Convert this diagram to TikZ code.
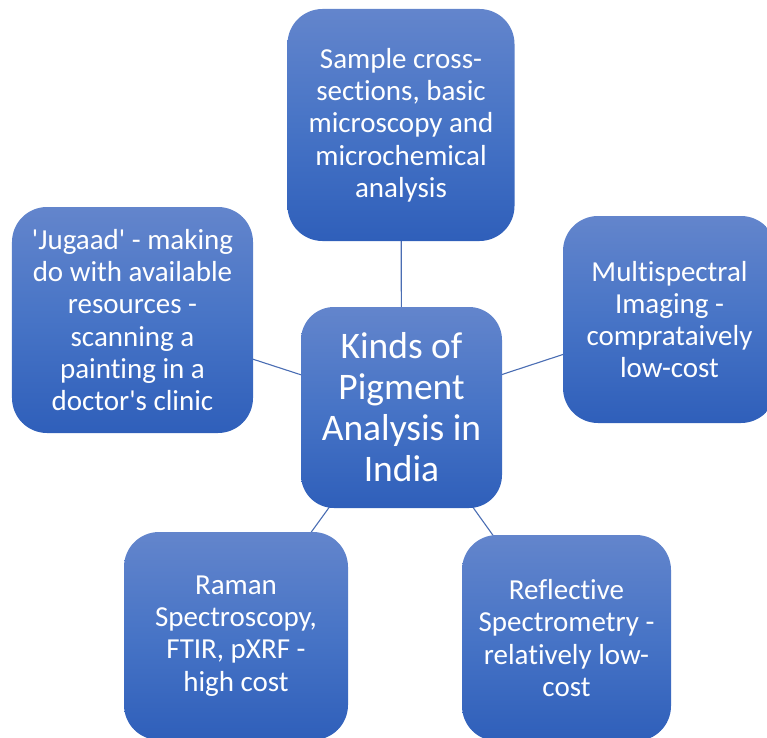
\documentclass[tikz,border=0pt]{standalone}
\usepackage{fontspec}
\newfontfamily\boxfont{Carlito}[Ligatures=NoCommon]
\usetikzlibrary{backgrounds}
\definecolor{boxtop}{HTML}{6385CC}
\definecolor{boxmid}{HTML}{4774C6}
\definecolor{boxbot}{HTML}{2F5FBA}
\definecolor{linkcol}{HTML}{4A6DB3}
\tikzset{
  topic/.style={rectangle, rounded corners=35bp, top color=boxtop, bottom color=boxbot, middle color=boxmid,
    text=white, align=center, inner sep=0pt, font=\boxfont\fontsize{29bp}{32.3bp}\selectfont},
  hub/.style={topic, rounded corners=33bp, font=\boxfont\fontsize{37.5bp}{41bp}\selectfont},
  link/.style={draw=linkcol, line width=1.1bp}
}
\begin{document}
\begin{tikzpicture}[x=1bp,y=-1bp]
\useasboundingbox (0,0) rectangle (767,738);
\clip (0,0) rectangle (767,738);
\node[hub, minimum width=201bp, minimum height=201bp] (c) at (401.5,407.5) {Kinds of\\Pigment\\Analysis in\\India};
\node[topic, minimum width=227bp, minimum height=232bp] (t) at (401,125) {Sample cross-\\sections, basic\\microscopy and\\microchemical\\analysis};
\node[topic, minimum width=241bp, minimum height=226bp] (l) at (132.5,320) {'Jugaad' - making\\do with available\\resources -\\scanning a\\painting in a\\doctor's clinic};
\node[topic, minimum width=213bp, minimum height=207bp] (r) at (669.5,319.5) {Multispectral\\Imaging -\\comprataively\\low-cost};
\node[topic, minimum width=224bp, minimum height=208bp] (bl) at (236,636) {Raman\\Spectroscopy,\\FTIR, pXRF -\\high cost};
\node[topic, minimum width=209bp, minimum height=206bp] (br) at (566.5,638) {Reflective\\Spectrometry -\\relatively low-\\cost};
\begin{scope}[on background layer]
\draw[link] (c.center) -- (t.center);
\draw[link] (c.center) -- (l.center);
\draw[link] (c.center) -- (r.center);
\draw[link] (c.center) -- (bl.center);
\draw[link] (c.center) -- (br.center);
\end{scope}
\end{tikzpicture}
\end{document}
